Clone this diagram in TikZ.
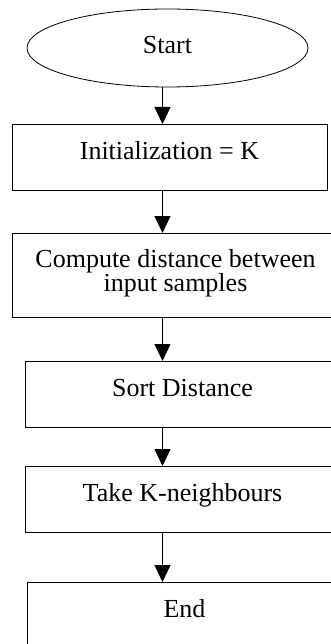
\documentclass[tikz,border=0pt]{standalone}
\usepackage{fontspec}
\setmainfont{Liberation Serif}
\usetikzlibrary{shapes.geometric,arrows.meta}
\begin{document}
\begin{tikzpicture}[x=1pt,y=-1pt,
    font=\fontsize{26pt}{24pt}\selectfont,
    stepbox/.style={draw,line width=1pt,rectangle,anchor=north,inner sep=0pt,
      minimum width=315pt,text height=35pt,text depth=31pt},
    terminal/.style={draw,line width=0.8pt,ellipse,inner sep=0pt,
      minimum width=281pt,minimum height=78pt,text depth=7pt},
    flow/.style={line width=1pt,-{Triangle[length=17pt,width=16pt]}}]
  \useasboundingbox (0,0) rectangle (331,644);
  \clip (0,0) rectangle (331,644);
  \node[terminal] (start) at (167.5,48) {Start};
  \node[stepbox] (init) at (169.5,124) {Initialization = K};
  \node[stepbox,minimum width=327pt,align=center,text height=58pt,text depth=26pt]
    (dist) at (175.5,233) {Compute distance between\\input samples};
  \node[stepbox] (sort) at (182.5,361) {Sort Distance};
  \node[stepbox] (knn) at (182.5,466) {Take K-neighbours};
  \node[stepbox,text depth=60pt] (end) at (184.5,582) {End};
  \coordinate (axis) at (162.5,0);
  \draw[flow] (start.south -| axis) -- (init.north -| axis);
  \draw[flow] (init.south -| axis) -- (dist.north -| axis);
  \draw[flow] (dist.south -| axis) -- (sort.north -| axis);
  \draw[flow] (sort.south -| axis) -- (knn.north -| axis);
  \draw[flow] (knn.south -| axis) -- (end.north -| axis);
\end{tikzpicture}
\end{document}
